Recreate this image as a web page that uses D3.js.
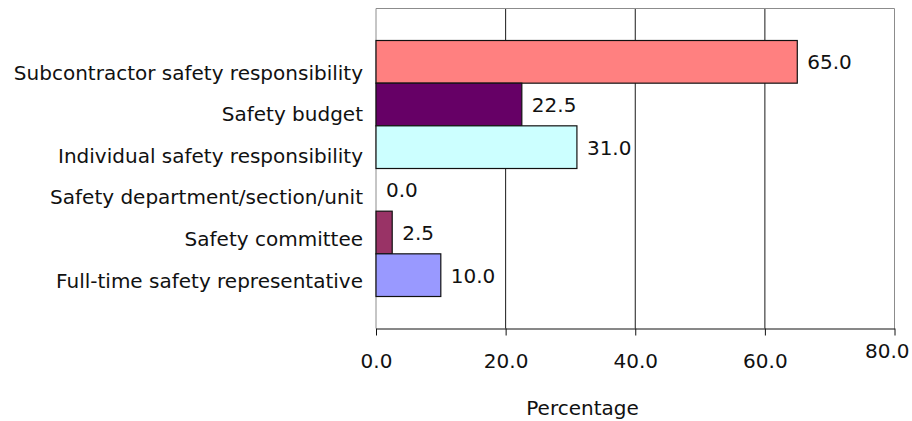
<!DOCTYPE html>
<html>
<head>
<meta charset="utf-8">
<script src="https://cdn.jsdelivr.net/npm/d3@7"></script>
<style>
  html, body { margin: 0; padding: 0; background: #ffffff; }
  svg { display: block; }
  text { font-family: "DejaVu Sans", sans-serif; fill: #111; }
</style>
</head>
<body>
<svg id="chart" width="912" height="421"></svg>
<script>
// Safety management measures, share of respondents (%)
const categories = [
  "Subcontractor safety responsibility",
  "Safety budget",
  "Individual safety responsibility",
  "Safety department/section/unit",
  "Safety committee",
  "Full-time safety representative"
];
const values = [65.0, 22.5, 31.0, 0.0, 2.5, 10.0];
const barColors = ["#FF8080", "#660066", "#CCFFFF", "#FFFFCC", "#993366", "#9999FF"];
const xTicks = [0, 20, 40, 60, 80];
const xTitle = "Percentage";

const W = 912, H = 421;
const plot = { left: 376, right: 894.5, top: 8.5, bottom: 328.5 };
const fontSize = 20;

const svg = d3.select("#chart");

const x = d3.scaleLinear().domain([0, 80]).range([plot.left, plot.right]);

// one group of adjacent bars, 150% gap on the outside
const y = d3.scaleBand()
  .domain(categories)
  .range([plot.top, plot.bottom])
  .paddingInner(0)
  .paddingOuter(0.75);

// category label rows
const labelRow = d3.scalePoint()
  .domain(categories)
  .range([plot.top + 71, plot.bottom - 41]);

// vertical gridlines
svg.append("g")
  .selectAll("line")
  .data(xTicks.filter(t => t > 0 && t < 80))
  .join("line")
  .attr("x1", d => x(d)).attr("x2", d => x(d))
  .attr("y1", plot.top).attr("y2", plot.bottom)
  .attr("stroke", "#1a1a1a")
  .attr("stroke-width", 1);

// plot frame (left, top, right)
svg.append("path")
  .attr("d", `M${plot.left},${plot.bottom}V${plot.top}H${plot.right}V${plot.bottom}`)
  .attr("fill", "none")
  .attr("stroke", "#8c8c8c")
  .attr("stroke-width", 1);

// bars
svg.append("g")
  .selectAll("rect")
  .data(categories.map((c, i) => ({ c, v: values[i], color: barColors[i] })))
  .join("rect")
  .attr("x", x(0))
  .attr("y", d => y(d.c))
  .attr("width", d => x(d.v) - x(0))
  .attr("height", y.bandwidth())
  .attr("fill", d => d.color)
  .attr("stroke", d => d.v > 0 ? "#111" : "none")
  .attr("stroke-width", 1.2);

// value labels
svg.append("g")
  .selectAll("text")
  .data(categories.map((c, i) => ({ c, v: values[i] })))
  .join("text")
  .attr("x", d => x(d.v) + 10)
  .attr("y", d => y(d.c) + y.bandwidth() / 2 + 7.5)
  .attr("font-size", fontSize)
  .text(d => d3.format(".1f")(d.v));

// category labels
svg.append("g")
  .selectAll("text")
  .data(categories)
  .join("text")
  .attr("x", 363)
  .attr("y", d => labelRow(d))
  .attr("text-anchor", "end")
  .attr("font-size", fontSize)
  .text(d => d);

// x axis
const axis = svg.append("g")
  .attr("transform", `translate(0,${plot.bottom})`)
  .call(d3.axisBottom(x)
    .tickValues(xTicks)
    .tickFormat(d3.format(".1f"))
    .tickSize(7)
    .tickSizeOuter(0)
    .tickPadding(18));
axis.select(".domain").attr("stroke", "#111");
axis.selectAll(".tick line").attr("stroke", "#111");
axis.selectAll(".tick text")
  .attr("font-family", "DejaVu Sans, sans-serif")
  .attr("font-size", fontSize)
  .attr("fill", "#111");
// last label sits raised and pulled inside the edge
axis.selectAll(".tick text")
  .filter(d => d === xTicks[xTicks.length - 1])
  .attr("text-anchor", "end")
  .attr("x", (W - 3) - x(xTicks[xTicks.length - 1]))
  .attr("y", 15);

// axis title
svg.append("text")
  .attr("x", 582.5)
  .attr("y", 415)
  .attr("text-anchor", "middle")
  .attr("font-size", fontSize)
  .text(xTitle);
</script>
</body>
</html>
